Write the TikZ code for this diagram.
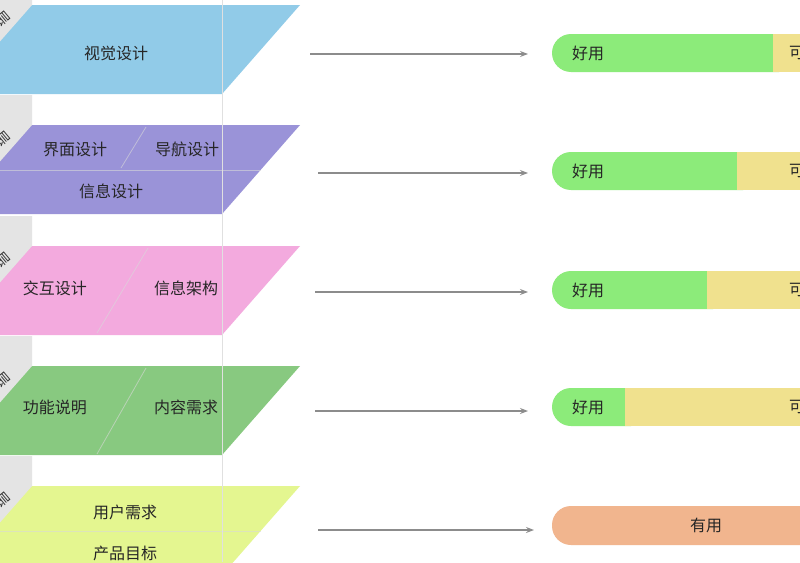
\documentclass[tikz,border=0pt]{standalone}
\usepackage{fontspec}
\setmainfont{Noto Sans CJK SC}
\usetikzlibrary{arrows.meta}
\definecolor{cBlue}{HTML}{91CBE8}
\definecolor{cPurple}{HTML}{9A93D8}
\definecolor{cPink}{HTML}{F3AADE}
\definecolor{cGreen}{HTML}{88C980}
\definecolor{cLime}{HTML}{E4F690}
\definecolor{bGreen}{HTML}{8CEB7A}
\definecolor{bYellow}{HTML}{F0E18E}
\definecolor{bOrange}{HTML}{F1B58E}
\definecolor{tabGray}{HTML}{E4E4E4}
\tikzset{x=1pt,y=-1pt,
  lbl/.style={font=\fontsize{16}{18}\selectfont, text=black!85, inner sep=0pt},
  divider/.style={draw=white!85!black, opacity=0.6, line width=0.8pt},
  arr/.style={draw=black!45, line width=1.2pt, -{Stealth[length=8pt,width=6pt]}},
  tab/.style={fill=tabGray, draw=none}}
\begin{document}
\begin{tikzpicture}
\useasboundingbox (0,0) rectangle (800,562);
\clip (0,0) rectangle (800,562);
\fill[white] (0,0) rectangle (800,562);
% layers
\foreach \t/\c in {5/cBlue,125/cPurple,246/cPink,366/cGreen,486/cLime}{
  \fill[\c] (-100,\t) -- (300,\t) -- (222,\t+89) -- (-100,\t+89) -- cycle;
  \fill[tab] (-40,\t-30) -- (32,\t-30) -- (32,\t) -- (-40,\t+82) -- cycle;
  \node[font=\fontsize{14}{14}\selectfont, rotate=-50, text=black!80] (tab\t) at (3,\t+14) {层};
}
% dividers
\draw[divider] (-10,170) -- (261,170);
\draw[divider] (146,127) -- (121,168);
\draw[divider] (148,248) -- (97,333);
\draw[divider] (146,368) -- (97,454);
\draw[divider] (-10,531) -- (261,531);
\draw[draw=black!12, line width=1pt] (222,0) -- (222,562);
% labels
\node[lbl] (v1) at (116,53) {视觉设计};
\node[lbl] (j1) at (75,149) {界面设计};
\node[lbl] (d1) at (187,149) {导航设计};
\node[lbl] (x1) at (111,191) {信息设计};
\node[lbl] (h1) at (55,288) {交互设计};
\node[lbl] (i1) at (186,288) {信息架构};
\node[lbl] (g1) at (55,407) {功能说明};
\node[lbl] (n1) at (186,407) {内容需求};
\node[lbl] (u1) at (125,512) {用户需求};
\node[lbl] (p1) at (125,553) {产品目标};
% bars
\foreach \y/\s in {34/773,152/737,271/707,388/625}{
  \fill[bYellow] (\s,\y) rectangle (830,\y+38);
  \fill[bGreen, rounded corners=19pt] (552,\y) rectangle (\s+25,\y+38);
  \fill[bGreen] (\s-5,\y) rectangle (\s,\y+38);
  \fill[bYellow] (\s,\y) rectangle (\s+30,\y+38);
}
\fill[bOrange, rounded corners=19pt] (552,506) rectangle (860,545);
\node[lbl] (b1) at (588,53) {好用};
\node[lbl] (b2) at (588,171) {好用};
\node[lbl] (b3) at (588,290) {好用};
\node[lbl] (b4) at (588,407) {好用};
\node[lbl,anchor=west] (k1) at (789,53) {可};
\node[lbl,anchor=west] (k2) at (789,171) {可};
\node[lbl,anchor=west] (k3) at (789,290) {可};
\node[lbl,anchor=west] (k4) at (789,407) {可};
\node[lbl] (b5) at (706,525) {有用};
% arrows
\coordinate (a1s) at (310,54); \coordinate (a1e) at (528,54);
\coordinate (a2s) at (318,173); \coordinate (a2e) at (528,173);
\coordinate (a3s) at (315,292); \coordinate (a3e) at (528,292);
\coordinate (a4s) at (315,411); \coordinate (a4e) at (528,411);
\coordinate (a5s) at (318,530); \coordinate (a5e) at (534,530);
\foreach \i in {1,...,5}{\draw[arr] (a\i s) -- (a\i e);}
\end{tikzpicture}
\end{document}
